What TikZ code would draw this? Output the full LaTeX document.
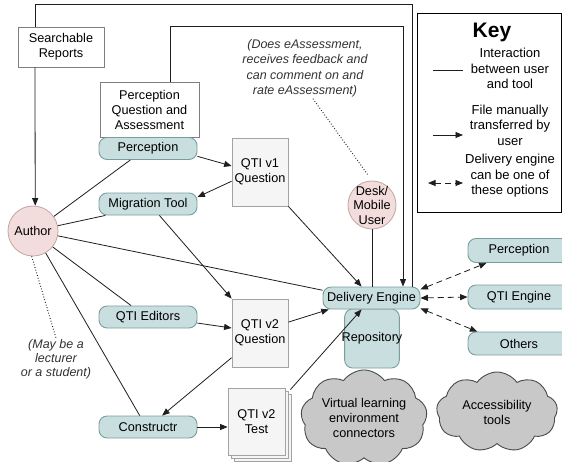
\documentclass[tikz,border=0pt]{standalone}
\usepackage{fontspec}
\setmainfont{Liberation Sans}
\usetikzlibrary{arrows.meta,shapes.symbols,shadows,calc}
\definecolor{tealf}{HTML}{C9DEDF}
\definecolor{teald}{HTML}{7A9E9F}
\definecolor{pinkf}{HTML}{F2DCDC}
\definecolor{pinkd}{HTML}{C4A4A4}
\definecolor{docf}{HTML}{F5F5F5}
\definecolor{docd}{HTML}{A3A3A3}
\definecolor{boxd}{HTML}{7F7F7F}
\definecolor{ln}{HTML}{1E1E1E}
\definecolor{cloudf}{HTML}{C8C8C8}
\definecolor{cloudd}{HTML}{4A4A4A}
\begin{document}
\begin{tikzpicture}[x=1pt,y=-1pt,
  every node/.style={font=\fontsize{12.7}{15}\selectfont, align=center, inner sep=1pt},
  tool/.style={draw=teald, fill=tealf, rounded corners=8pt, line width=0.9pt, minimum width=98pt, minimum height=22pt},
  plainbox/.style={draw=boxd, fill=white, line width=0.8pt},
  doc/.style={draw=docd, fill=docf, line width=0.8pt, minimum width=56pt, minimum height=68pt},
  person/.style={circle, draw=pinkd, fill=pinkf, line width=0.8pt, inner sep=-3pt},
  cloudy/.style={cloud, cloud puffs=9, cloud puff arc=110, aspect=1.5, draw=cloudd, fill=cloudf, line width=0.9pt, inner sep=0pt},
  link/.style={draw=ln, line width=0.8pt},
  arr/.style={link, -{Triangle[length=7.5pt,width=6pt]}},
  opt/.style={link, dash pattern=on 6pt off 4pt, {Triangle[length=7.5pt,width=6pt]}-{Triangle[length=7.5pt,width=6pt]}},
  note/.style={font=\fontsize{12.5}{15.5}\selectfont\itshape, text=black!80},
  keytext/.style={font=\fontsize{13}{15.5}\selectfont}
]
\clip (0,0) rectangle (562,461);
\fill[white] (0,0) rectangle (562,461);

% key
\node[draw=black, line width=1pt, minimum width=144pt, minimum height=199pt, inner sep=0pt] (keybox) at (489,112.5) {};
\node[font=\fontsize{21}{24}\selectfont\bfseries] (keytitle) at (492,32) {Key};
\node[keytext] (k1t) at (510,68.5) {Interaction\\between user\\and tool};
\node[keytext] (k2t) at (510,125) {File manually\\transferred by\\user};
\node[keytext] (k3t) at (510,176) {Delivery engine\\can be one of\\these options};
\coordinate (k1a) at (433,70); \coordinate (k1b) at (463,70);
\coordinate (k2a) at (433,135); \coordinate (k2b) at (463,135);
\coordinate (k3a) at (428,183); \coordinate (k3b) at (463,183);
\draw[link] (k1a) -- (k1b);
\draw[arr] (k2a) -- (k2b);
\draw[opt] (k3a) -- (k3b);

% nodes
\node[plainbox, minimum width=86pt, minimum height=40pt] (searchable) at (61,47) {Searchable\\Reports};
\node[plainbox, minimum width=99pt, minimum height=55pt] (pqa) at (149.5,109.5) {Perception\\Question and\\Assessment};
\node[tool] (perc) at (148,148.5) {Perception};
\node[tool] (mig) at (148,204) {Migration Tool};
\node[tool] (editors) at (148,317) {QTI Editors};
\node[tool] (constr) at (148,427) {Constructr};
\node[person, minimum size=50pt] (author) at (33,231) {Author};
\node[doc] (qti1) at (260,172) {QTI v1\\Question};
\node[doc] (qti2q) at (260,333) {QTI v2\\Question};
\node[doc, minimum width=57pt, minimum height=67pt,
  double copy shadow={shadow xshift=3pt, shadow yshift=-3pt, draw=docd, fill=docf, line width=0.8pt}] (qti2t) at (256.5,421.5) {QTI v2\\Test};
\node[tool, minimum width=54pt, minimum height=59pt, inner xsep=-3pt] (repo) at (372,338.5) {Repository};
\node[tool, minimum width=97pt] (deliv) at (371.5,298) {Delivery Engine};
\node[person, minimum size=48pt, font=\fontsize{12.7}{14.5}\selectfont] (desk) at (372,205) {Desk/\\Mobile\\User};
\node[tool, minimum width=102pt, minimum height=24pt] (rperc) at (519,250.5) {Perception};
\node[tool, minimum width=102pt, minimum height=24pt] (qtie) at (519,297) {QTI Engine};
\node[tool, minimum width=102pt, minimum height=23pt] (others) at (519,343.5) {Others};
\node[cloudy, minimum width=118pt, minimum height=83pt] (vle) at (364,418) {Virtual learning\\environment\\connectors};
\node[cloudy, minimum width=121pt, minimum height=80pt] (access) at (497,412) {Accessibility\\tools};
\node[note, font=\fontsize{12.5}{14}\selectfont\itshape] (maynote) at (56,359) {(May be a\\lecturer\\or a student)};
\node[note] (doesnote) at (305,68.5) {(Does eAssessment,\\receives feedback and\\can comment on and\\rate eAssessment)};

% connectors
\draw[link] ($(deliv.north)+(40.5,0)$) -- ++(0,-282) -| ($(searchable.north)+(-26,0)$);
\draw[arr] ($(searchable.south)+(-26,0)$) -- (author.85);
\draw[arr] ($(pqa.north)+(20.5,0)$) -- ++(0,-55) -| ($(deliv.north)+(31.5,0)$);
\draw[arr] (perc.-9) -- (qti1.168);
\draw[arr] (qti1.198) -- (mig.8);
\draw[link] (author.35) -- (perc.-147);
\draw[link] (author.12) -- (mig.-165);
\draw[link] (author.-11) -- (deliv.171);
\draw[link] (author.-39) -- (editors.146);
\draw[link] (author.-60) -- (constr.126);
\draw[arr] (mig.-45) -- (qti2q.north west);
\draw[arr] (editors.-7) -- (qti2q.170);
\draw[arr] (qti2q.-139) -- (constr.39);
\draw[arr] (constr.east) -- (qti2t.west |- constr.east);
\draw[arr] (qti1.south east) -- (deliv.131);
\draw[arr] (qti2q.21) -- (deliv.-165);
\draw[arr] ($(qti2t.north east)+(5,2)$) -- (deliv.-131);
\draw[link] (desk.south) -- (desk.south |- deliv.north);
\draw[link, dotted, line width=1pt] (author.-93) -- (maynote.north);
\draw[link, dotted, line width=1pt, shorten >=6pt] ($(doesnote.south)+(8,0)$) -- (desk.north);
\draw[opt] (deliv.10) -- (rperc.-159);
\draw[opt] (deliv.east) -- (qtie.west);
\draw[opt] (deliv.-12) -- (others.164);
\end{tikzpicture}
\end{document}
